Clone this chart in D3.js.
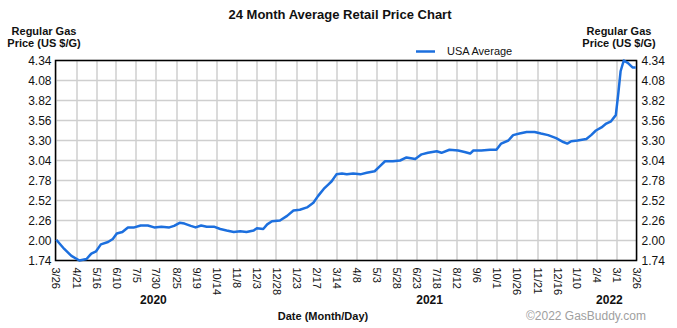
<!DOCTYPE html>
<html>
<head>
<meta charset="utf-8">
<script src="https://cdn.jsdelivr.net/npm/d3@7"></script>
<style>
  body { margin: 0; background: #fff; }
  text { font-family: "Liberation Sans", Arial, sans-serif; fill: #111; }
</style>
</head>
<body>
<script>
// values
var dates = [
  "2020-03-27","2020-04-06","2020-04-15","2020-04-25","2020-05-04","2020-05-10","2020-05-16","2020-05-22",
  "2020-05-31","2020-06-06","2020-06-11","2020-06-18","2020-06-25","2020-07-03","2020-07-11","2020-07-20",
  "2020-07-28","2020-08-06","2020-08-16","2020-08-22","2020-08-29","2020-09-04","2020-09-12","2020-09-18",
  "2020-09-25","2020-10-02","2020-10-11","2020-10-19","2020-10-27","2020-11-05","2020-11-13","2020-11-21",
  "2020-11-30","2020-12-04","2020-12-12","2020-12-17","2020-12-23","2021-01-02","2021-01-11","2021-01-19",
  "2021-01-27","2021-02-05","2021-02-13","2021-02-19","2021-02-26","2021-03-04","2021-03-08","2021-03-14",
  "2021-03-21","2021-03-27","2021-04-04","2021-04-13","2021-04-21","2021-05-01","2021-05-08","2021-05-14",
  "2021-05-24","2021-06-02","2021-06-10","2021-06-21","2021-06-29","2021-07-07","2021-07-18","2021-07-24",
  "2021-08-03","2021-08-14","2021-08-22","2021-08-29","2021-09-02","2021-09-12","2021-09-23","2021-10-01",
  "2021-10-07","2021-10-16","2021-10-22","2021-10-30","2021-11-08","2021-11-18","2021-11-26","2021-12-05",
  "2021-12-15","2021-12-24","2021-12-29","2022-01-03","2022-01-11","2022-01-22","2022-01-28","2022-02-03",
  "2022-02-10","2022-02-16","2022-02-22","2022-02-28","2022-03-03","2022-03-06","2022-03-10","2022-03-15",
  "2022-03-21","2022-03-25"
];
var usaAverage = [
  2.01,1.89,1.80,1.74,1.76,1.83,1.86,1.95,
  1.98,2.02,2.09,2.11,2.17,2.17,2.195,2.195,
  2.17,2.18,2.17,2.19,2.23,2.22,2.19,2.17,
  2.195,2.18,2.18,2.15,2.13,2.11,2.12,2.11,
  2.13,2.16,2.15,2.21,2.25,2.26,2.32,2.39,
  2.40,2.43,2.49,2.58,2.67,2.73,2.77,2.86,
  2.87,2.86,2.87,2.86,2.88,2.90,2.97,3.03,
  3.03,3.04,3.08,3.06,3.12,3.14,3.16,3.14,
  3.18,3.17,3.15,3.13,3.17,3.17,3.18,3.18,
  3.26,3.30,3.37,3.39,3.41,3.41,3.39,3.37,
  3.33,3.28,3.26,3.29,3.30,3.32,3.37,3.43,
  3.47,3.52,3.55,3.63,3.90,4.20,4.34,4.31,
  4.25,4.25
];
var tickDates = [
  "2020-03-26","2020-04-21","2020-05-16","2020-06-10","2020-07-05","2020-07-30","2020-08-25","2020-09-19",
  "2020-10-14","2020-11-08","2020-12-03","2020-12-28","2021-01-23","2021-02-17","2021-03-14","2021-04-08",
  "2021-05-03","2021-05-28","2021-06-23","2021-07-18","2021-08-12","2021-09-06","2021-10-01","2021-10-26",
  "2021-11-21","2021-12-16","2022-01-10","2022-02-04","2022-03-01","2022-03-26"
];
var yTicks = [1.74, 2.00, 2.26, 2.52, 2.78, 3.04, 3.30, 3.56, 3.82, 4.08, 4.34];
var years = ["2020", "2021", "2022"];
var yearDates = ["2020-07-27", "2021-07-09", "2022-02-20"];

var W = 677, H = 328;
var margin = {top: 60.5, left: 55.5, right: 40.5, bottom: 67.5};
var width = W - margin.left - margin.right,
    height = H - margin.top - margin.bottom;

var parse = d3.timeParse("%Y-%m-%d");
var data = dates.map(function (d, i) {
    return {date: parse(d), value: usaAverage[i]};
});

var svg = d3.select("body").append("svg")
    .attr("width", W)
    .attr("height", H);

var chart = svg.append("g")
    .attr("transform", "translate(" + margin.left + "," + margin.top + ")");

var x = d3.scaleTime()
    .domain([parse("2020-03-26"), parse("2022-03-26")])
    .range([0, width]);
var y = d3.scaleLinear()
    .domain([1.74, 4.34])
    .range([height, 0]);

// grid
chart.append("g")
    .selectAll("line.v")
    .data(tickDates.map(parse))
    .enter().append("line")
    .attr("x1", function (d) { return Math.round(x(d)) + 0.5; })
    .attr("x2", function (d) { return Math.round(x(d)) + 0.5; })
    .attr("y1", 0).attr("y2", height)
    .attr("stroke", "#cfcfcf").attr("stroke-width", 1.5);
chart.append("g")
    .selectAll("line.h")
    .data(yTicks)
    .enter().append("line")
    .attr("x1", 0).attr("x2", width)
    .attr("y1", function (d) { return y(d); })
    .attr("y2", function (d) { return y(d); })
    .attr("stroke", "#cfcfcf").attr("stroke-width", 1.5);

// axes
var fmt = d3.timeFormat("%-m/%-d");
var xAxis = d3.axisBottom(x)
    .tickValues(tickDates.map(parse))
    .tickFormat(fmt)
    .tickSize(0);
var gx = chart.append("g")
    .attr("transform", "translate(0," + height + ")")
    .call(xAxis);
gx.select(".domain").remove();
gx.selectAll("text")
    .attr("transform", "rotate(90)")
    .attr("x", 7).attr("y", 0).attr("dy", "0.35em")
    .style("text-anchor", "start")
    .style("font-size", "11px");

var yAxisL = d3.axisLeft(y).tickValues(yTicks).tickFormat(d3.format(".2f")).tickSize(0).tickPadding(4);
var yAxisR = d3.axisRight(y).tickValues(yTicks).tickFormat(d3.format(".2f")).tickSize(0).tickPadding(5);
var gl = chart.append("g").call(yAxisL);
var gr = chart.append("g").attr("transform", "translate(" + width + ",0)").call(yAxisR);
[gl, gr].forEach(function (g) {
    g.select(".domain").remove();
    g.selectAll("text").style("font-size", "12px").attr("fill", "#111");
});

// border
chart.append("rect")
    .attr("width", width).attr("height", height)
    .attr("fill", "none").attr("stroke", "#000").attr("stroke-width", 1.5);

// line
var line = d3.line()
    .x(function (d) { return x(d.date); })
    .y(function (d) { return y(d.value); });
chart.append("path")
    .datum(data)
    .attr("d", line)
    .attr("fill", "none")
    .attr("stroke", "#1c6fde")
    .attr("stroke-width", 2.5)
    .attr("stroke-linejoin", "round");

// years
chart.selectAll(".year")
    .data(years)
    .enter().append("text")
    .attr("x", function (d, i) { return x(parse(yearDates[i])); })
    .attr("y", height + 43)
    .attr("text-anchor", "middle")
    .style("font-size", "12px").style("font-weight", "bold")
    .text(function (d) { return d; });

// titles
svg.append("text")
    .attr("x", 340).attr("y", 19)
    .attr("text-anchor", "middle")
    .style("font-size", "13px").style("font-weight", "bold")
    .text("24 Month Average Retail Price Chart");

[44, 619].forEach(function (cx) {
    svg.append("text").attr("x", cx).attr("y", 35).attr("text-anchor", "middle")
        .style("font-size", "11px").style("font-weight", "bold").text("Regular Gas");
    svg.append("text").attr("x", cx).attr("y", 47).attr("text-anchor", "middle")
        .style("font-size", "11px").style("font-weight", "bold").text("Price (US $/G)");
});

svg.append("text")
    .attr("x", 323).attr("y", 320)
    .attr("text-anchor", "middle")
    .style("font-size", "11px").style("font-weight", "bold")
    .text("Date (Month/Day)");

svg.append("text")
    .attr("x", 646).attr("y", 320)
    .attr("text-anchor", "end")
    .style("font-size", "12px").style("fill", "#a0a0a0")
    .text("\u00a92022 GasBuddy.com");

// legend
svg.append("line")
    .attr("x1", 416).attr("x2", 435).attr("y1", 51.5).attr("y2", 51.5)
    .attr("stroke", "#1c6fde").attr("stroke-width", 2.5);
svg.append("text")
    .attr("x", 447).attr("y", 55)
    .style("font-size", "11px")
    .text("USA Average");
</script>
</body>
</html>
